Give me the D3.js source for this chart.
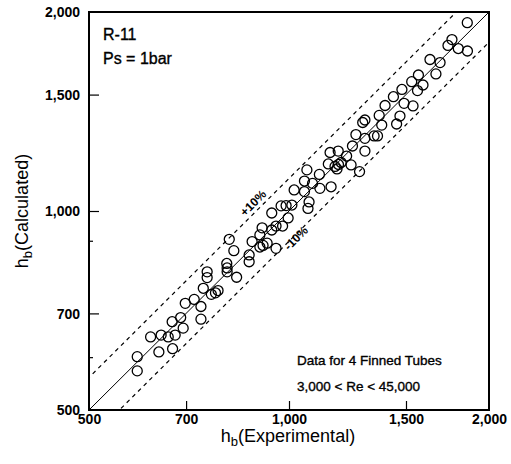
<!DOCTYPE html>
<html><head><meta charset="utf-8">
<script src="https://cdn.jsdelivr.net/npm/d3@7/dist/d3.min.js"></script>
<style>
html,body{margin:0;padding:0;background:#fff;}
text{font-family:"Liberation Sans",Arial,Helvetica,sans-serif;fill:#000;}
</style></head>
<body>
<svg id="chart" width="511" height="464"></svg>
<script>
// Data (h_b experimental, h_b calculated)
const expValues = [591,591,619,637,642,658,667,668,674,687,693,698,720,737,737,743,753,753,764,775,782,806,807,807,813,826,834,871,871,880,
  904,911,904,914,927,942,942,956,956,978,973,990,1010,997,1018,1055,1055,1064,1072,1068,1085,1111,1113,1157,1146,1153,1173,1181,1187,1186,
  1198,1221,1240,1277,1246,1261,1301,1301,1291,1301,1343,1359,1367,1379,1395,1436,1452,1469,1479,1490,1530,1537,1561,1566,1591,1630,1664,1688,1735,1759,
  1798,1856,1855];
const calcValues = [602,573,645,612,649,645,680,619,649,690,665,725,735,717,686,764,809,793,748,752,758,833,820,809,906,871,794,858,838,899,
  920,943,882,887,894,993,936,878,949,949,1018,1019,1021,976,1076,1110,1070,1154,1032,1009,1101,1136,1082,1088,1178,1226,1168,1158,1176,1232,
  1184,1211,1174,1147,1254,1305,1288,1232,1361,1373,1299,1299,1395,1349,1444,1489,1354,1392,1527,1455,1569,1442,1521,1606,1551,1695,1612,1677,1780,1817,
  1761,1746,1927];
const tickValues = [500,700,1000,1500,2000];
const minorTicksY = [600,900];
const bandFactors = [1.12, 0.9];
const bandLabels = ["+10%","-10%"];
const xTitle = "(Experimental)";
const yTitle = "(Calculated)";
const noteLines = ["R-11","Ps = 1bar"];
const infoLines = ["Data for 4 Finned Tubes","3,000 < Re < 45,000"];

const svg = d3.select("#chart");
const L=89,R=489,T=12,B=410;
const x = d3.scaleLog().domain([500,2000]).range([L,R]);
const y = d3.scaleLog().domain([500,2000]).range([B,T]);
const fmt = d3.format(",");

svg.append("clipPath").attr("id","clip").append("rect").attr("x",L).attr("y",T).attr("width",R-L).attr("height",B-T);

const g = svg.append("g").attr("clip-path","url(#clip)");
const line = d3.line().x(d=>x(d[0])).y(d=>y(d[1]));
g.append("path").attr("d",line([[500,500],[2000,2000]])).attr("stroke","#000").attr("stroke-width",1).attr("fill","none");
bandFactors.forEach(f=>{
  g.append("path").attr("d",line([[400,400*f],[2500,2500*f]])).attr("stroke","#000").attr("stroke-width",1.2)
   .attr("stroke-dasharray","4,4").attr("fill","none");
});

const pts = expValues.map((v,i)=>[v,calcValues[i]]);
g.selectAll("circle").data(pts).enter().append("circle")
  .attr("cx",d=>x(d[0])).attr("cy",d=>y(d[1])).attr("r",5)
  .attr("fill","none").attr("stroke","#000").attr("stroke-width",1.3);

svg.append("rect").attr("x",L).attr("y",T).attr("width",R-L).attr("height",B-T)
  .attr("fill","none").attr("stroke","#000").attr("stroke-width",2);

const xAxis = d3.axisBottom(x).tickValues(tickValues).tickFormat(fmt).tickSize(-9).tickPadding(4);
const gx = svg.append("g").attr("transform",`translate(0,${B})`).call(xAxis);
const yAxis = d3.axisLeft(y).tickValues(tickValues).tickFormat(fmt).tickSize(-10).tickPadding(9);
const gy = svg.append("g").attr("transform",`translate(${L},0)`).call(yAxis);
[gx,gy].forEach(a=>{
  a.select(".domain").remove();
  a.selectAll(".tick line").attr("stroke","#000").attr("stroke-width",1.2);
  a.selectAll(".tick text").attr("font-size",14).attr("font-weight","bold")
    .attr("font-family","'Liberation Sans',Arial,sans-serif").attr("fill","#000");
});
gx.selectAll(".tick").filter(d=>d===500||d===2000).select("line").remove();
gy.selectAll(".tick").filter(d=>d===500||d===2000).select("line").remove();
gy.selectAll(".tick text").attr("dy","0.35em");
svg.append("g").selectAll("line").data(minorTicksY).enter().append("line")
  .attr("x1",L).attr("x2",L+4).attr("y1",d=>y(d)).attr("y2",d=>y(d)).attr("stroke","#000").attr("stroke-width",1.2);

svg.append("text").attr("transform",`translate(256,206) rotate(-45)`).attr("text-anchor","middle")
  .attr("font-size",12).attr("font-weight","bold").text(bandLabels[0]);
svg.append("text").attr("transform",`translate(299,241) rotate(-45)`).attr("text-anchor","middle")
  .attr("font-size",12).attr("font-weight","bold").text(bandLabels[1]);

const heavy = s=>s.attr("stroke","#000").attr("stroke-width",0.35);
heavy(svg.append("text").attr("x",103).attr("y",40).attr("font-size",16).text(noteLines[0]));
heavy(svg.append("text").attr("x",103).attr("y",64).attr("font-size",16).text(noteLines[1]));
heavy(svg.append("text").attr("x",297).attr("y",365).attr("font-size",13.5).text(infoLines[0]));
heavy(svg.append("text").attr("x",297).attr("y",391).attr("font-size",13.5).text(infoLines[1]));

const xt = svg.append("text").attr("x",288).attr("y",442).attr("text-anchor","middle").attr("font-size",18);
xt.append("tspan").text("h");
xt.append("tspan").attr("font-size",13).attr("dy",4).text("b");
xt.append("tspan").attr("dy",-4).text(xTitle);
const yt = svg.append("text").attr("transform","translate(28,211) rotate(-90)").attr("text-anchor","middle").attr("font-size",18);
yt.append("tspan").text("h");
yt.append("tspan").attr("font-size",13).attr("dy",4).text("b");
yt.append("tspan").attr("dy",-4).text(yTitle);
</script>
</body></html>
